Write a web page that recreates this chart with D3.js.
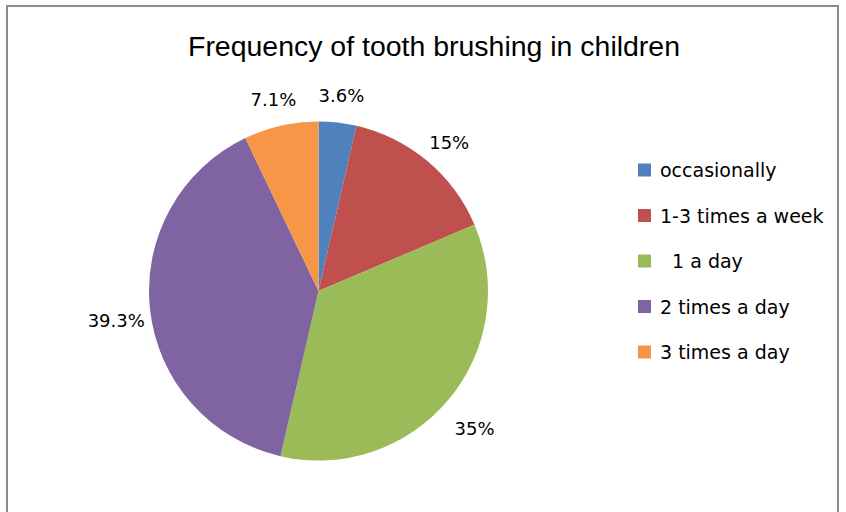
<!DOCTYPE html>
<html><head><meta charset="utf-8">
<script src="https://cdn.jsdelivr.net/npm/d3@7"></script>
<style>html,body{margin:0;padding:0;background:#fff;}</style>
</head><body>
<svg id="chart" width="846" height="512"></svg>
<script>
const categories = ["occasionally", "1-3 times a week", "\u00a0\u00a01 a day", "2 times a day", "3 times a day"];
const values = [3.6, 15, 35, 39.3, 7.1];
const labels = ["3.6%", "15%", "35%", "39.3%", "7.1%"];
const colors = ["#4F81BD", "#C0504D", "#9BBB59", "#8064A2", "#F79646"];
const title = "Frequency of tooth brushing in children";

const svg = d3.select("#chart");
svg.append("rect").attr("x", 7).attr("y", 6).attr("width", 831).attr("height", 520)
  .attr("fill", "#fff").attr("stroke", "#8c8c8c").attr("stroke-width", 2);

svg.append("text").attr("x", 434).attr("y", 56).attr("text-anchor", "middle")
  .attr("font-family", "'Liberation Sans Narrow', 'Arial Narrow', sans-serif")
  .attr("font-size", 27).attr("fill", "#000")
  .attr("textLength", 492).attr("lengthAdjust", "spacingAndGlyphs")
  .text(title);

const cx = 318.5, cy = 291, r = 169.5;
const pie = d3.pie().sort(null).value(d => d)(values);
const arc = d3.arc().innerRadius(0).outerRadius(r);
const g = svg.append("g").attr("transform", `translate(${cx},${cy})`);
g.selectAll("path").data(pie).join("path").attr("d", arc).attr("fill", (d, i) => colors[i]);

const labelArc = d3.arc().innerRadius(r + 34).outerRadius(r + 34);
g.selectAll("text.lbl").data(pie).join("text").attr("class", "lbl")
  .attr("transform", d => `translate(${labelArc.centroid(d)})`)
  .attr("text-anchor", "middle").attr("dy", "0.75em")
  .attr("font-family", "'DejaVu Sans', sans-serif").attr("font-size", 18).attr("fill", "#000")
  .text((d, i) => labels[i]);

const legY = d3.scalePoint().domain(d3.range(categories.length)).range([170, 352]);
const leg = svg.append("g");
categories.forEach((c, i) => {
  leg.append("rect").attr("x", 638).attr("y", legY(i) - 6.5).attr("width", 13).attr("height", 13).attr("fill", colors[i]);
  leg.append("text").attr("x", 660).attr("y", legY(i) + 7).attr("font-family", "'DejaVu Sans', sans-serif")
    .attr("font-size", 19).attr("fill", "#000").text(c);
});
</script>
</body></html>
